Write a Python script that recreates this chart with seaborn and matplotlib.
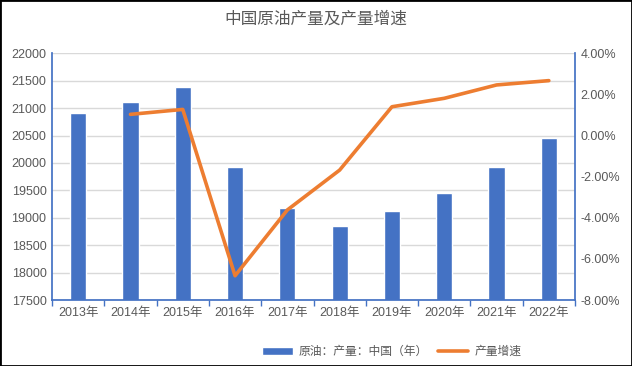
import numpy as np
import pandas as pd
import seaborn as sns
import matplotlib.pyplot as plt
from matplotlib.patches import Patch
from matplotlib.lines import Line2D
from matplotlib.ticker import FuncFormatter, MultipleLocator

# ---------- datos ----------
years = ["2013年", "2014年", "2015年", "2016年", "2017年",
         "2018年", "2019年", "2020年", "2021年", "2022年"]
output = [20911, 21112, 21385, 19926, 19172, 18850, 19123, 19452, 19926, 20455]
growth_years = ["2014年", "2015年", "2016年", "2017年", "2018年",
                "2019年", "2020年", "2021年", "2022年"]
growth = [1.03, 1.27, -6.82, -3.62, -1.68, 1.40, 1.81, 2.46, 2.67]

BLUE = "#4472C4"
ORANGE = "#ED7D31"
GRAY = "#595959"

sns.set_theme(style="white")
plt.rcParams["font.family"] = ["Liberation Sans", "Noto Sans CJK SC", "DejaVu Sans"]

df = pd.DataFrame({"年份": years, "产量": output})
dg = pd.DataFrame({"pos": [years.index(y) for y in growth_years], "增速": growth})

fig = plt.figure(figsize=(6.32, 3.66), dpi=100)
ax = fig.add_axes([0.0823, 0.1803, 0.8275, 0.6741])

sns.barplot(data=df, x="年份", y="产量", color=BLUE, width=0.31,
            saturation=1, ax=ax)
ax.set_ylim(17500, 22000)
ax.yaxis.set_major_locator(MultipleLocator(500))
ax.set_xlim(-0.5, len(years) - 0.5)
ax.grid(axis="y", color="#D9D9D9", linewidth=1)
ax.set_axisbelow(True)
ax.set_xlabel("")
ax.set_ylabel("")

ax2 = ax.twinx()
sns.lineplot(data=dg, x="pos", y="增速", color=ORANGE, linewidth=2.6, ax=ax2)
ax2.set_ylim(-8, 4)
ax2.yaxis.set_major_locator(MultipleLocator(2))
ax2.yaxis.set_major_formatter(FuncFormatter(lambda v, p: f"{v:.2f}%"))
ax2.set_xlim(-0.5, len(years) - 0.5)
ax2.set_xlabel("")
ax2.set_ylabel("")

for a in (ax, ax2):
    for s in a.spines.values():
        s.set_visible(False)
ax.spines["left"].set_visible(True)
ax.spines["left"].set_color(BLUE)
ax.spines["bottom"].set_visible(True)
ax.spines["bottom"].set_color(BLUE)
ax2.spines["right"].set_visible(True)
ax2.spines["right"].set_color(BLUE)

# ticks del eje x entre categorías
ax.set_xticks(np.arange(len(years)))
ax.set_xticklabels(years)
ax.set_xticks(np.arange(-0.5, len(years), 1), minor=True)
ax.tick_params(axis="x", which="major", length=0, labelsize=9, labelcolor=GRAY, pad=5)
ax.tick_params(axis="x", which="minor", length=4, color=BLUE, width=1, bottom=True)
ax.tick_params(axis="y", length=0, labelsize=9, labelcolor=GRAY, pad=4)
ax2.tick_params(axis="y", length=0, labelsize=9, labelcolor=GRAY, pad=4)

fig.suptitle("中国原油产量及产量增速", y=0.97, fontsize=12, color=GRAY,
             family=["Noto Sans CJK SC", "DejaVu Sans"])

handles = [Patch(facecolor=BLUE), Line2D([0], [0], color=ORANGE, linewidth=2.6)]
labels = ["原油：产量：中国（年）", "产量增速"]
fig.legend(handles, labels, loc="center", bbox_to_anchor=(0.62, 0.038), ncol=2,
           frameon=False, fontsize=8.5, labelcolor=GRAY, handlelength=2.6,
           handleheight=0.7, columnspacing=0.8, handletextpad=0.5)

fig.patches.append(plt.Rectangle((0, 0), 1, 1, transform=fig.transFigure,
                                 fill=False, edgecolor="black", linewidth=2))

fig.savefig("out.png", dpi=100)
